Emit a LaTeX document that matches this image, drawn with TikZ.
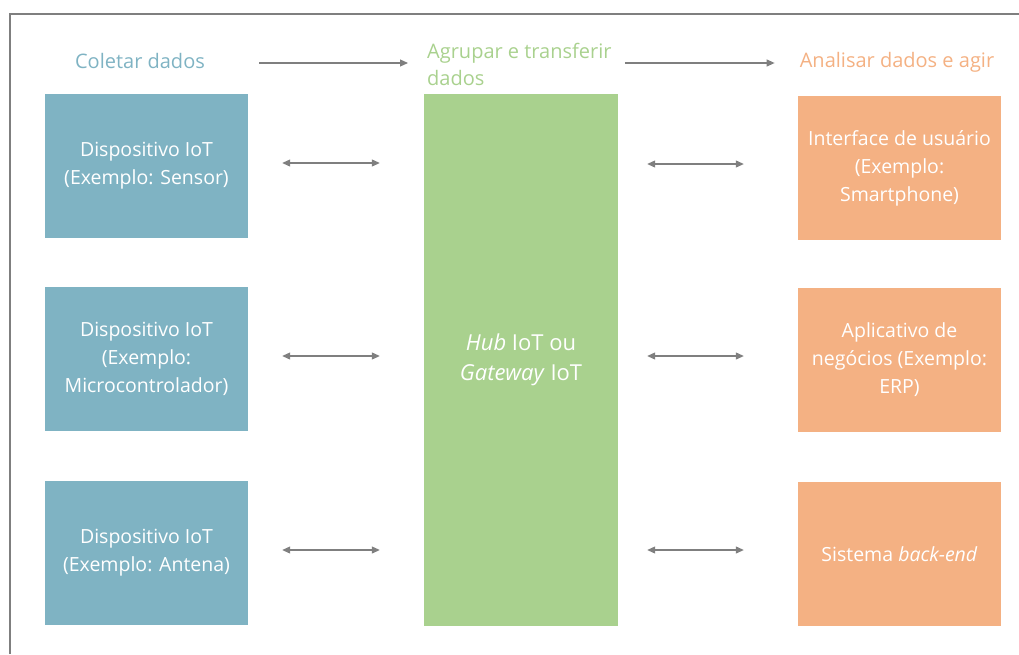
\documentclass[tikz,border=0pt]{standalone}
\usepackage{fontspec}
\setmainfont{Open Sans}
\usepackage{tikz}
\usetikzlibrary{arrows.meta}

\definecolor{iotblue}{HTML}{7FB3C3}
\definecolor{iotgreen}{HTML}{A9D18E}
\definecolor{iotorange}{HTML}{F4B183}
\definecolor{arrowgray}{HTML}{7F7F7F}

\begin{document}
\begin{tikzpicture}[x=1pt, y=-1pt,
    box/.style={draw=none, inner sep=4pt, align=center,
                font=\fontsize{19.5}{28}\selectfont, text=white,
                minimum width=203pt, minimum height=144pt},
    dev/.style={box, fill=iotblue},
    app/.style={box, fill=iotorange},
    hdr/.style={inner sep=0pt, font=\fontsize{20}{27}\selectfont},
    flow/.style={-{Triangle[length=8pt,width=7pt]}, arrowgray, line width=1.1pt},
    dflow/.style={{Triangle[length=8pt,width=7pt]}-{Triangle[length=8pt,width=7pt]},
                  arrowgray, line width=1.1pt}]
  \useasboundingbox (0,0) rectangle (1019,654);
  \draw[arrowgray, line width=2pt] (10,654) -- (10,14) -- (1019,14);

  % headers
  \node[hdr, text=iotblue] (h1) at (140,61) {Coletar dados};
  \node[hdr, text=iotgreen, align=left, anchor=west] (h2) at (427,64)
       {Agrupar e transferir\\dados};
  \node[hdr, text=iotorange] (h3) at (897,62) {Analisar dados e agir};
  \draw[flow, shorten <=54pt, shorten >=19pt] ([yshift=-2pt]h1.east) -- ([yshift=-2pt]h1.east -| h2.west);
  \draw[flow, shorten <=13pt, shorten >=25pt] ([yshift=-2pt]h1.east -| h2.east) -- ([yshift=-2pt]h1.east -| h3.west);

  % devices
  \node[dev] (d1) at (146.5,166) {Dispositivo IoT\\(Exemplo: Sensor)};
  \node[dev] (d2) at (146.5,359) {Dispositivo IoT\\(Exemplo:\\Microcontrolador)};
  \node[dev] (d3) at (146.5,553) {Dispositivo IoT\\(Exemplo: Antena)};

  % hub
  \node[box, fill=iotgreen, minimum width=194pt, minimum height=532pt,
        font=\fontsize{22}{30}\selectfont] (hub) at (521,360)
       {\textit{Hub} IoT ou\\\textit{Gateway} IoT};

  % applications
  \node[app] (r1) at (899.5,168) {Interface de usuário\\(Exemplo:\\Smartphone)};
  \node[app] (r2) at (899.5,360) {Aplicativo de\\negócios (Exemplo:\\ERP)};
  \node[app] (r3) at (899.5,554) {Sistema \textit{back-end}};

  \foreach \d in {d1,d2,d3}
    \draw[dflow, shorten <=34pt, shorten >=44pt] ([yshift=3pt]\d.east) -- ([yshift=3pt]\d.east -| hub.west);
  \foreach \r in {r1,r2,r3}
    \draw[dflow, shorten <=29pt, shorten >=54pt] ([yshift=4pt]\r.west -| hub.east) -- ([yshift=4pt]\r.west);
\end{tikzpicture}
\end{document}
